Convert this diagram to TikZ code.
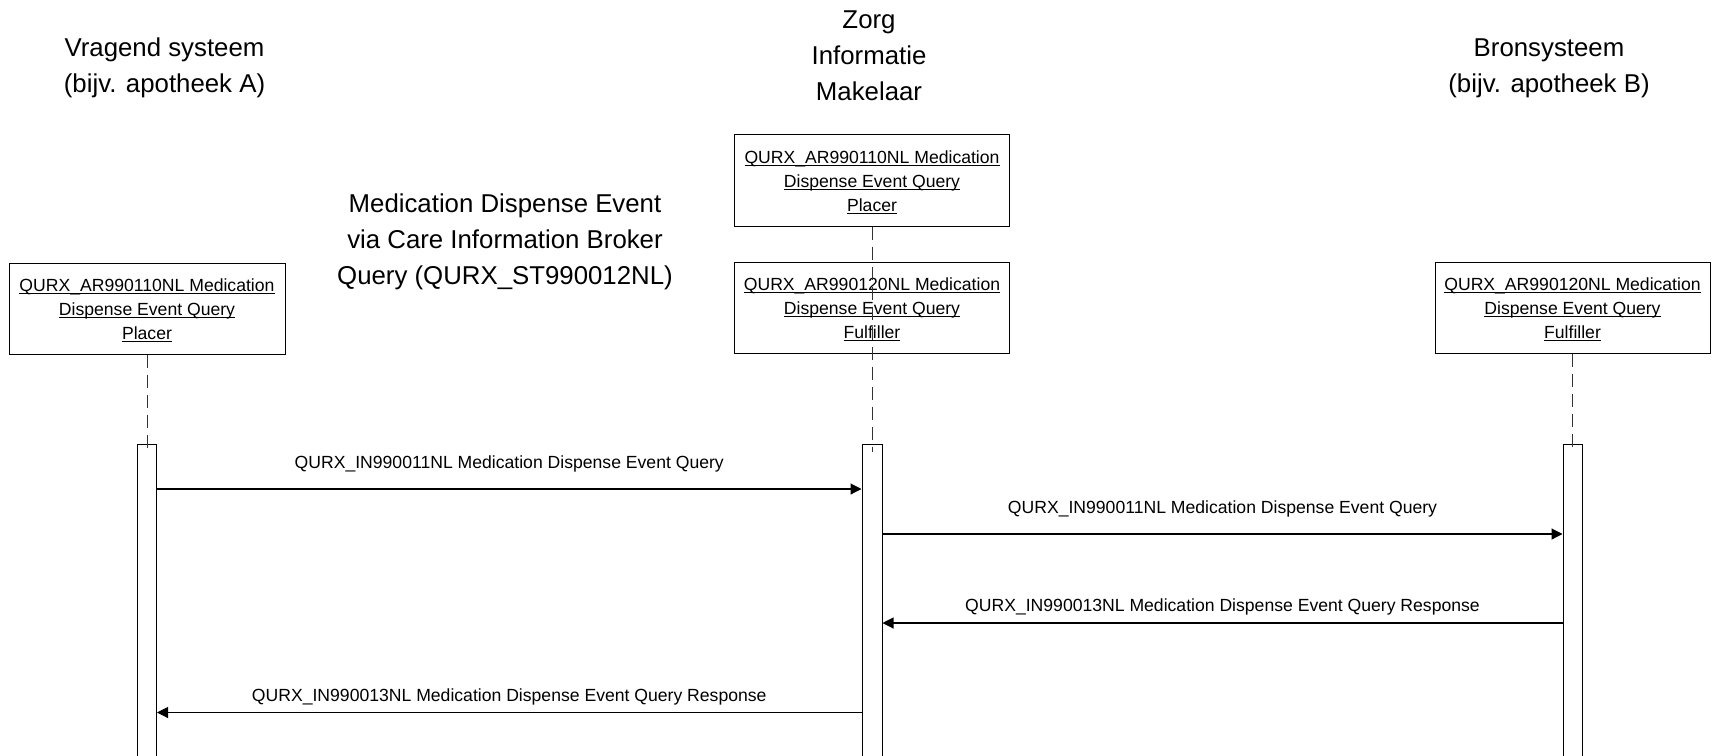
\documentclass[tikz,border=0pt]{standalone}
\usepackage{fontspec}
\setmainfont{Liberation Sans}
\usetikzlibrary{arrows.meta}
\newcommand\myul[1]{\setbox0\hbox{#1}\rlap{\rule[-2.5pt]{\wd0}{0.9pt}}\box0}
\tikzset{
  rolebox/.style={draw=black, line width=1pt, fill=white, rectangle, inner sep=0pt,
    minimum width=275pt, minimum height=91pt, align=center,
    font=\fontsize{17.6}{24}\selectfont},
  actbar/.style={draw=black, line width=1pt, fill=white, rectangle, inner sep=0pt,
    minimum width=19pt, minimum height=316pt, anchor=north},
  lifeline/.style={draw=black!80, line width=1pt, dash pattern=on 13pt off 7pt},
  msg/.style={draw=black, line width=1.1pt, -{Triangle[length=11pt,width=11pt]}},
  lbl/.style={font=\fontsize{17.6}{24}\selectfont, inner sep=0pt, anchor=base},
  ttl/.style={font=\fontsize{25.8}{36}\selectfont, align=center, inner sep=0pt}
}
\begin{document}
\begin{tikzpicture}[x=1pt,y=-1pt]
\useasboundingbox (0,0) rectangle (1715,755);
\fill[white] (0,0) rectangle (1715,755);

% titles
\node[ttl] (tA) at (164.5,67.5) {Vragend systeem\\(bijv. apotheek A)};
\node[ttl] (tZ) at (869,55.5) {Zorg\\Informatie\\Makelaar};
\node[ttl] (tB) at (1549,68.5) {Bronsysteem\\(bijv. apotheek B)};
\node[ttl] (tI) at (505,242) {Medication Dispense Event\\via Care Information Broker\\Query (QURX\_ST990012NL)};

% role boxes
\node[rolebox, minimum width=276pt] (lbox) at (147,308.5) {\rule{0pt}{17pt}\myul{QURX\_AR990110NL Medication}\\\myul{Dispense Event Query}\\\myul{Placer}};
\node[rolebox, minimum height=92pt] (mbox1) at (872,180) {\rule{0pt}{17pt}\myul{QURX\_AR990110NL Medication}\\\myul{Dispense Event Query}\\\myul{Placer}};
\node[rolebox] (mbox2) at (872,307.5) {\rule{0pt}{17pt}\myul{QURX\_AR990120NL Medication}\\\myul{Dispense Event Query}\\\myul{Fulfiller}};
\node[rolebox] (rbox) at (1572.5,307.5) {\rule{0pt}{17pt}\myul{QURX\_AR990120NL Medication}\\\myul{Dispense Event Query}\\\myul{Fulfiller}};

% activation bars
\node[actbar] (lbar) at (147,444) {};
\node[actbar, minimum width=20pt] (mbar) at (872,444) {};
\node[actbar] (rbar) at (1572.5,444) {};

% lifelines
\draw[lifeline] (lbox.south) -- ([yshift=-8pt]lbar.north);
\draw[lifeline] (mbox1.south) -- ([yshift=-8pt]mbar.north);
\draw[lifeline] (rbox.south) -- ([yshift=-8pt]rbar.north);

% message rows
\coordinate (r1) at (0,489);
\coordinate (r2) at (0,534);
\coordinate (r3) at (0,623);
\coordinate (r4) at (0,712.5);

\draw[msg] (lbar.east |- r1) -- node[lbl, yshift=21pt] {QURX\_IN990011NL Medication Dispense Event Query} (mbar.west |- r1);
\draw[msg] (mbar.east |- r2) -- node[lbl, yshift=21pt] {QURX\_IN990011NL Medication Dispense Event Query} (rbar.west |- r2);
\draw[msg] (rbar.west |- r3) -- node[lbl, yshift=12pt] {QURX\_IN990013NL Medication Dispense Event Query Response} (mbar.east |- r3);
\draw[msg] (mbar.west |- r4) -- node[lbl, yshift=11.5pt] {QURX\_IN990013NL Medication Dispense Event Query Response} (lbar.east |- r4);
\end{tikzpicture}
\end{document}
